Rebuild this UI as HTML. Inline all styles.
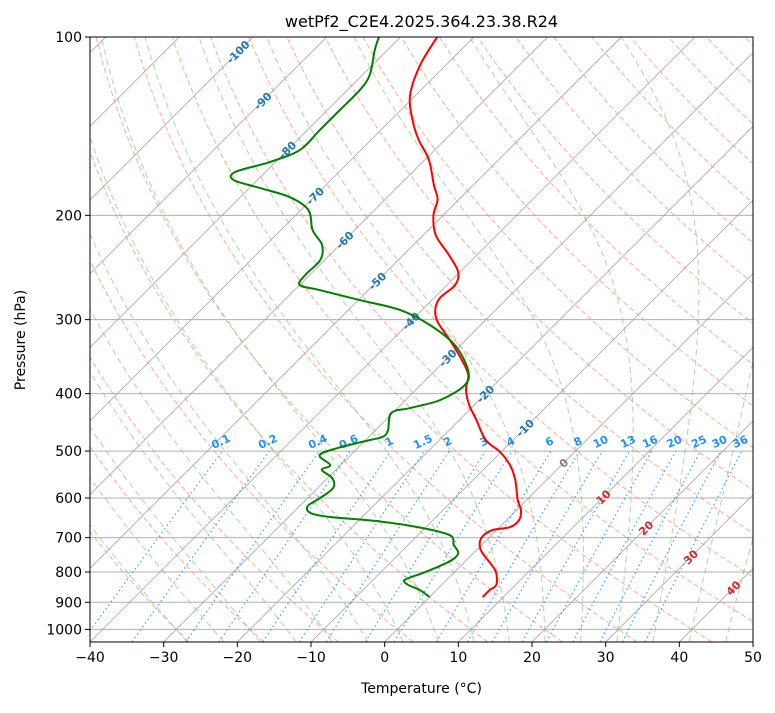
<!DOCTYPE html>
<html><head><meta charset="utf-8"><style>
body{margin:0;background:#fff;font-family:"Liberation Sans","DejaVu Sans",sans-serif}
svg text{font-family:"DejaVu Sans","Liberation Sans",sans-serif}
</style></head><body>
<svg id="c" width="775" height="708" xmlns="http://www.w3.org/2000/svg"></svg>
<script>
const tempP=[100,111.5,125.3,138,149,161,178,188,200,216,233,249,262,276,289,303,325,351,372,394,418,443,479,502,528,559,605,629,654,672,680,701,729,752,770,800,841,858,882];
const tempT=[-75,-73.5,-70.8,-67.1,-63.6,-59.5,-55.3,-52.9,-51.3,-48.3,-43.9,-40.3,-38.9,-39.2,-38.2,-36.2,-32.1,-27.8,-24.9,-23.2,-20.7,-17.7,-13.7,-10.1,-7,-4.3,-1.2,0.6,1.7,1.4,-0.6,-1,0.2,1.9,3.4,5.6,7.4,7.2,7.2];
const dewP=[100,105.2,115.9,122.9,132.8,143.6,155.1,162.5,169,174.4,179.8,186.3,195.9,211.8,224.4,237.9,252.2,262.2,267.4,278,288.9,306.3,331.1,364.9,386.8,410,423,431,461,473,479,494,508,528,538,555,577,600,619,636,646,656,672,693,720,743,764,788,806,825,841,858,882];
const dewT=[-82.9,-81.7,-79,-78.3,-78.3,-78.3,-78.3,-80.7,-84.1,-83.2,-78.6,-73.3,-69,-65.7,-62.4,-60.6,-60.6,-60,-56.6,-49.8,-43,-36.9,-30.8,-25.6,-24,-25.3,-28.3,-30.2,-28.3,-28.1,-29.4,-32.7,-34.2,-31.4,-31.9,-29.4,-27.9,-28.3,-28.9,-27.6,-24.4,-17.7,-11.1,-5.7,-3.8,-2.1,-2,-3.2,-4.4,-5.7,-4.6,-2.3,0];
const xTicks=[-40,-30,-20,-10,0,10,20,30,40,50];
const yTicks=[100,200,300,400,500,600,700,800,900,1000];
const mixRatios=[0.1,0.2,0.4,0.6,1,1.5,2,3,4,6,8,10,13,16,20,25,30,36];
const isoLabels=[-100,-90,-80,-70,-60,-50,-40,-30,-20,-10,0,10,20,30,40];
const isoLabelY=[52,101,150,196,240,281,321,358,394,428,463,497,528,557,588];

const L=90,R=753,T=37,B=642,decade=592.4;
const NS="http://www.w3.org/2000/svg";
const svg=document.getElementById('c');
function yP(p){return T+(Math.log10(p)-2)*decade;}
function xT(t,y){return L+(t+40)*(R-L)/90+(B-y);}
function el(tag,attrs,parent){const e=document.createElementNS(NS,tag);for(const k in attrs)e.setAttribute(k,attrs[k]);(parent||svg).appendChild(e);return e;}
function txt(s,x,y,attrs,parent){const e=el('text',Object.assign({x:x,y:y},attrs),parent);e.textContent=s;return e;}
function pathFrom(ps,ts){let d='';for(let i=0;i<ps.length;i++){const y=yP(ps[i]);d+=(i?'L':'M')+xT(ts[i],y).toFixed(2)+','+y.toFixed(2);}return d;}
function smoothFrom(ps,ts){const pts=ps.map((p,i)=>{const y=yP(p);return [xT(ts[i],y),y];});
let d='M'+pts[0][0].toFixed(2)+','+pts[0][1].toFixed(2);
for(let i=0;i<pts.length-1;i++){const p0=pts[Math.max(0,i-1)],p1=pts[i],p2=pts[i+1],p3=pts[Math.min(pts.length-1,i+2)];
const c1=[p1[0]+(p2[0]-p0[0])/6,p1[1]+(p2[1]-p0[1])/6],c2=[p2[0]-(p3[0]-p1[0])/6,p2[1]-(p3[1]-p1[1])/6];
d+='C'+c1[0].toFixed(2)+','+c1[1].toFixed(2)+' '+c2[0].toFixed(2)+','+c2[1].toFixed(2)+' '+p2[0].toFixed(2)+','+p2[1].toFixed(2);}
return d;}

const defs=el('defs',{});
const cp=el('clipPath',{id:'clip'},defs);
el('rect',{x:L,y:T,width:R-L,height:B-T},cp);
const g=el('g',{'clip-path':'url(#clip)'});



for(const p of yTicks){const y=yP(p);const ln=el('line',{x1:L,x2:R,y1:y,y2:y,stroke:'#b0b0b0','stroke-width':1},g);

}
for(let t=-160;t<=50;t+=10){const ln=el('line',{x1:xT(t,B),y1:B,x2:xT(t,T),y2:T,stroke:'#999','stroke-width':0.9,opacity:0.8},g);

}
const pLev=[];for(let p=1050;p>=100;p-=10)pLev.push(p);
for(let th=-30;th<=200;th+=10){const ts=pLev.map(p=>(th+273.15)*Math.pow(p/1000,0.2857)-273.15);
const pa=el('path',{d:pathFrom(pLev,ts),fill:'none',stroke:'#ff9070','stroke-width':1.1,'stroke-dasharray':'5,3',opacity:0.7},g);

}
function es(t){return 6.112*Math.exp(17.67*t/(t+243.5));}
function moist(t0){const Rd=287.04,Cp=1005.7,Lv=2.501e6,eps=0.622;
function dTdp(p,tc){const Tk=tc+273.15;const rs=eps*es(tc)/(p-es(tc));return (1/p)*(Rd*Tk+Lv*rs)/(Cp+Lv*Lv*rs*eps/(Rd*Tk*Tk));}
const ps=[],ts=[];let t=t0,p;
let td=t0;for(let q=1000;q<1050;q+=5){td+=dTdp(q,td)*5;}
ps.push(1050);ts.push(td);
for(p=1000;p>=100;p-=5){ps.push(p);ts.push(t);t-=dTdp(p,t)*5;}
return [ps,ts];}
for(let t0=-30;t0<=45;t0+=5){const m=moist(t0);
const pa=el('path',{d:pathFrom(m[0],m[1]),fill:'none',stroke:'#80c080','stroke-width':1.1,'stroke-dasharray':'6,4',opacity:0.6},g);

}
function tdFromW(w,p){const e=w*p/(0.622+w);const l=Math.log(e/6.112);return 243.5*l/(17.67-l);}
for(const w of mixRatios){const ps=[];for(let p=1050;p>=500;p-=10)ps.push(p);const ts=ps.map(p=>tdFromW(w/1000,p));
const pa=el('path',{d:pathFrom(ps,ts),fill:'none',stroke:'#1e90ff','stroke-width':1.2,'stroke-dasharray':'1.5,3',opacity:0.85},g);


const y=yP(500),x=xT(tdFromW(w/1000,500),y);
const lb=txt(String(w),x,y-6,{'font-size':11,'font-weight':'bold',fill:'#1e90ff','text-anchor':'middle',transform:`rotate(-25 ${x} ${y-6})`},g);

}
for(let i=0;i<isoLabels.length;i++){const v=isoLabels[i],y=isoLabelY[i],x=xT(v,y);
const col=v<0?'#1f77b4':(v===0?'#808080':'#d62728');
const lb=txt(String(v),x,y+4,{'font-size':11,'font-weight':'bold',fill:col,'text-anchor':'middle',transform:`rotate(-45 ${x} ${y})`},g);

}
const tp=el('path',{d:smoothFrom(tempP,tempT),fill:'none',stroke:'#ff0000','stroke-width':2},g);


const dp=el('path',{d:smoothFrom(dewP,dewT),fill:'none',stroke:'#008000','stroke-width':2},g);



const fr=el('rect',{x:L,y:T,width:R-L,height:B-T,fill:'none',stroke:'#000','stroke-width':1});


for(const t of xTicks){const x=L+(t+40)*(R-L)/90;el('line',{x1:x,x2:x,y1:B,y2:B+5,stroke:'#000'});
const lb=txt(t<0?'\u2212'+(-t):String(t),x,B+20,{'font-size':14,'text-anchor':'middle',fill:'#000'});

}
for(const p of yTicks){const y=yP(p);el('line',{x1:L-5,x2:L,y1:y,y2:y,stroke:'#000'});
const lb=txt(String(p),L-8,y+5,{'font-size':14,'text-anchor':'end',fill:'#000'});

}
const xt=txt('Temperature (\u00b0C)',(L+R)/2,693,{'font-size':14,'text-anchor':'middle'});


const yt=txt('Pressure (hPa)',25,340,{'font-size':14,'text-anchor':'middle',transform:'rotate(-90 25 340)'});


const ti=txt('wetPf2_C2E4.2025.364.23.38.R24',(L+R)/2,27,{'font-size':16,'text-anchor':'middle'});


</script>
</body></html>
